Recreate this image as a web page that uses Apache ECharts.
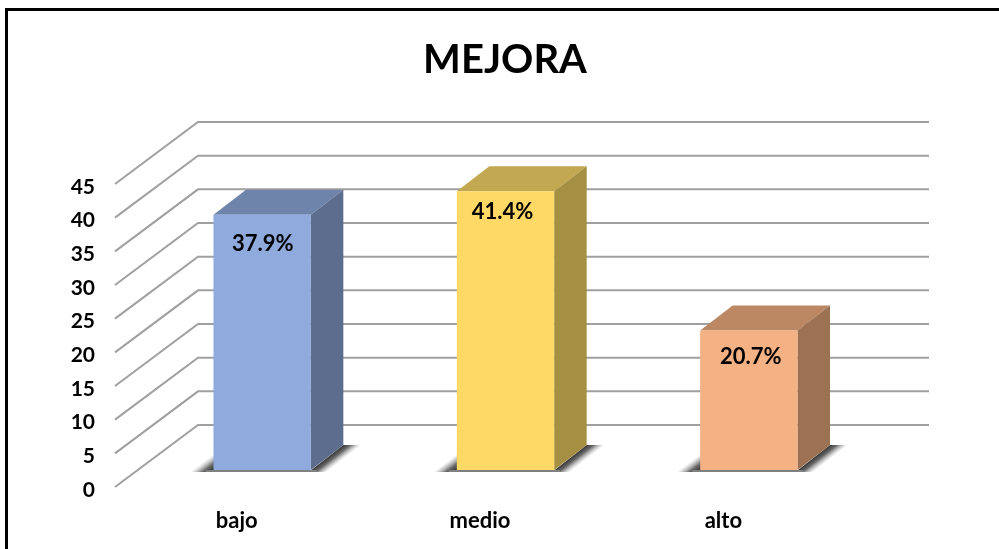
<!DOCTYPE html>
<html><head><meta charset="utf-8">
<style>html,body{margin:0;padding:0;background:#fff}#c{width:999px;height:549px}</style>
<script src="https://cdn.jsdelivr.net/npm/echarts@6/dist/echarts.min.js"></script>
</head><body><div id="c"></div>
<script>
var titleText = 'MEJORA';
var categories = ['bajo', 'medio', 'alto'];
var barValues = [37.9, 41.4, 20.7];
var percentLabels = ['37.9%', '41.4%', '20.7%'];
var yTicks = [0, 5, 10, 15, 20, 25, 30, 35, 40, 45];
var frontColors = ['#8faadc', '#ffd966', '#f4b183'];
var topColors = ['#6f84ab', '#c2a850', '#bc8863'];
var sideColors = ['#5d6d8e', '#a48f42', '#9c7253'];
var labelDrops = [29, 21, 26];
var labelShifts = [0.5, -3, 2];

var FONT = 'Lato';
var WALL_DX = 83, WALL_DY = -62;     // floor depth of the 3D box
var BAR_DX = 25.5, BAR_DY = -17;     // bar front offset from the axis plane
var DEPTH_DX = 32.5, DEPTH_DY = -25; // bar depth

function renderGrid(params, api) {
  var p = api.coord([0, api.value(1)]);
  var cs = params.coordSys;
  var x0 = cs.x, y = p[1];
  return {
    type: 'polyline', silent: true,
    shape: { points: [[x0, y], [x0 + WALL_DX, y + WALL_DY], [x0 + cs.width + WALL_DX + 1, y + WALL_DY]] },
    style: { fill: null, stroke: '#a0a0a0', lineWidth: 2 }
  };
}

function renderBar(params, api) {
  var i = api.value(0), v = api.value(1);
  var top = api.coord([i, v]), base = api.coord([i, 0]);
  var w = api.size([1, 0])[0] * 0.4;
  var cx = top[0] + BAR_DX;
  var l = cx - w / 2, r = cx + w / 2;
  var t = top[1] + BAR_DY, b = base[1] + BAR_DY;
  var dx = DEPTH_DX, dy = DEPTH_DY;
  function poly(points, fill) { return { type: 'polygon', silent: true, shape: { points: points }, style: { fill: fill } }; }
  function fade(x0, y0, x1, y1) {
    return { type: 'linear', global: true, x: x0, y: y0, x2: x1, y2: y1, colorStops: [
      { offset: 0, color: 'rgba(50,50,50,1)' }, { offset: 0.4, color: 'rgba(80,80,80,0.85)' }, { offset: 1, color: 'rgba(150,150,150,0)' }] };
  }
  return {
    type: 'group',
    children: [
      poly([[l - 24, b + 2], [l, b - 16], [l + 2, b + 2]], fade(l, b, l - 7.7, b - 10.2)),
      poly([[r - 2, b + 2], [r + dx, b + dy], [r + dx + 18, b + dy], [r + 18, b + 2]], fade(r, b, r + 7, b + 9)),
      { type: 'rect', silent: true, shape: { x: l - 8, y: b, width: w + 14, height: 2 }, style: { fill: '#808080' } },
      poly([[l, t], [l + dx, t + dy], [r + dx, t + dy], [r, t]], topColors[i]),
      poly([[r, t], [r + dx, t + dy], [r + dx, b + dy], [r, b]], sideColors[i]),
      { type: 'rect', silent: true, shape: { x: l, y: t, width: w, height: b - t }, style: { fill: frontColors[i] } },
      { type: 'text', silent: true, style: {
          x: cx + labelShifts[i], y: t + labelDrops[i], text: percentLabels[i], align: 'center', verticalAlign: 'middle',
          font: 'bold 22px ' + FONT, fill: '#000' } }
    ]
  };
}

var chart = echarts.init(document.getElementById('c'), null, { renderer: 'canvas' });
chart.setOption({
  animation: false,
  backgroundColor: '#fff',
  title: { text: titleText, left: 500, top: 35, textAlign: 'center',
    textStyle: { fontFamily: FONT, fontWeight: 'bold', fontSize: 40, color: '#000' } },
  grid: { left: 115, top: 184, width: 730, height: 303 },
  xAxis: { type: 'category', data: categories, axisLine: { show: false }, axisTick: { show: false }, splitLine: { show: false },
    axisLabel: { margin: 23, fontFamily: FONT, fontWeight: 'bold', fontSize: 22, color: '#000' } },
  yAxis: { type: 'value', min: 0, max: 45, interval: 5, axisLine: { show: false }, axisTick: { show: false }, splitLine: { show: false },
    axisLabel: { margin: 20, verticalAlign: 'top', lineHeight: 6, fontFamily: FONT, fontWeight: 'bold', fontSize: 21, color: '#000' } },
  graphic: [{ type: 'polyline', silent: true, shape: { points: [[6.5, 549], [6.5, 9.5], [999, 9.5]] },
    style: { fill: null, stroke: '#000', lineWidth: 3 } }],
  series: [
    { type: 'custom', renderItem: renderGrid, clip: false, silent: true, z: 1,
      encode: { x: 0, y: 1 }, data: yTicks.map(function (t) { return [0, t]; }) },
    { type: 'custom', renderItem: renderBar, clip: false, silent: true, z: 2,
      encode: { x: 0, y: 1 }, data: barValues.map(function (v, i) { return [i, v]; }) }
  ]
});
</script></body></html>
